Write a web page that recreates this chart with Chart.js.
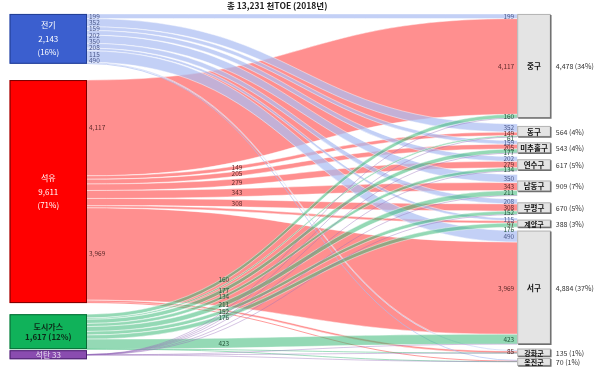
<!DOCTYPE html>
<html>
<head>
<meta charset="utf-8">
<script src="https://cdn.jsdelivr.net/npm/chart.js@4.4.1/dist/chart.umd.min.js"></script>
<style>
  html, body { margin: 0; padding: 0; background: #fff; }
  #wrap { width: 600px; height: 372px; }
</style>
</head>
<body>
<div id="wrap"><canvas id="sankey" width="600" height="372"></canvas></div>
<script>
// --- data (천TOE, 2018) ---
const titleTotal = 13231;
const titleYear = 2018;
const sources = ['전기', '석유', '도시가스', '석탄'];
const sourceTotals = [2143, 9611, 1617, 33];
const sourceShares = [16, 71, 12, null];
const targets = ['중구', '동구', '미추홀구', '연수구', '남동구', '부평구', '계양구', '서구', '강화군', '옹진군'];
const targetTotals = [4478, 564, 543, 617, 909, 670, 388, 4884, 135, 70];
const targetShares = [34, 4, 4, 5, 7, 5, 3, 37, 1, 1];
// flows from each source to the targets above, same order
const elecFlows = [199, 352, 159, 202, 350, 208, 115, 490, 45, 23];
const oilFlows  = [4117, 149, 205, 279, 343, 308, 97, 3969, 85, 40];
const gasFlows  = [160, 61, 177, 134, 211, 152, 176, 423, 3, 5];
const coalFlows = [2, 2, 2, 2, 5, 2, 0, 2, 2, 2];

const flowRows = [elecFlows, oilFlows, gasFlows, coalFlows];
const nodeFill   = ['#3b5fcf', '#ff0000', '#10b25a', '#8a4cb0'];
const nodeBorder = ['#233f94', '#7a0000', '#0a6b36', '#4d2370'];
const nodeText   = ['#ffffff', '#ffffff', '#0b2a18', '#e8dff0'];
const flowFill   = ['rgba(172,190,242,0.72)', 'rgba(255,40,40,0.52)', 'rgba(60,185,120,0.55)', 'rgba(150,110,185,0.45)'];
const labelColor = ['#4d5a8c', '#5e2a2a', '#25583c', '#5a3a70'];

const fmt = v => v.toLocaleString('en-US');
const FONT = '"Noto Sans CJK KR", "Noto Sans", sans-serif';

// layout in scale units
const YMAX = 16000;
const TOP = 600;
const leftGaps = [700, 480, 230];
const rightGaps = [250, 150, 150, 150, 150, 150, 150, 250, 300];
const SRC_L = 0.016, SRC_R = 0.145, TGT_L = 0.862, TGT_R = 0.918;

function spread(list, gap) {
  list.sort((a, b) => a.y - b.y);
  for (let k = 1; k < list.length; k++) {
    if (list[k].y < list[k - 1].y + gap) list[k].y = list[k - 1].y + gap;
  }
  return list;
}

const sankeyPlugin = {
  id: 'sankeyDraw',
  afterDatasetsDraw(chart) {
    const ctx = chart.ctx;
    const xs = chart.scales.x, ys = chart.scales.y;
    const X = v => xs.getPixelForValue(v);
    const Y = v => ys.getPixelForValue(v);

    // node extents
    const srcSum = flowRows.map(r => r.reduce((a, b) => a + b, 0));
    const tgtSum = targets.map((t, j) => flowRows.reduce((a, r) => a + r[j], 0));
    const srcTop = [], tgtTop = [];
    let c = TOP;
    srcSum.forEach((s, i) => { srcTop.push(c); c += s + (leftGaps[i] || 0); });
    c = TOP;
    tgtSum.forEach((s, j) => { tgtTop.push(c); c += s + (rightGaps[j] || 0); });

    // bands
    const bands = [];
    const tgtCur = tgtTop.slice();
    flowRows.forEach((row, i) => {
      let sc = srcTop[i];
      row.forEach((v, j) => {
        bands.push({ i, j, v, a0: sc, b0: sc + v, a1: tgtCur[j], b1: tgtCur[j] + v });
        sc += v;
        tgtCur[j] += v;
      });
    });

    const x0 = X(SRC_R), x1 = X(TGT_L), xm = (x0 + x1) / 2;
    const curveY = (ya, yb, px) => {
      let lo = 0, hi = 1;
      for (let n = 0; n < 40; n++) {
        const t = (lo + hi) / 2;
        const xt = Math.pow(1 - t, 3) * x0 + 3 * (1 - t) * (1 - t) * t * xm + 3 * (1 - t) * t * t * xm + t * t * t * x1;
        if (xt < px) lo = t; else hi = t;
      }
      const t = (lo + hi) / 2;
      return ya + (yb - ya) * (3 * t * t - 2 * t * t * t);
    };

    [1, 0, 2, 3].forEach(i => {
      bands.filter(b => b.i === i && b.v > 0).forEach(b => {
        const a0 = Y(b.a0), b0 = Y(b.b0), a1 = Y(b.a1), b1 = Y(b.b1);
        if (b0 - a0 < 1) {
          const m0 = (a0 + b0) / 2, m1 = (a1 + b1) / 2;
          ctx.beginPath();
          ctx.moveTo(x0, m0);
          ctx.bezierCurveTo(xm, m0, xm, m1, x1, m1);
          ctx.strokeStyle = flowFill[i];
          ctx.lineWidth = 0.9;
          ctx.stroke();
          return;
        }
        ctx.beginPath();
        ctx.moveTo(x0, a0);
        ctx.bezierCurveTo(xm, a0, xm, a1, x1, a1);
        ctx.lineTo(x1, b1);
        ctx.bezierCurveTo(xm, b1, xm, b0, x0, b0);
        ctx.closePath();
        ctx.fillStyle = flowFill[i];
        ctx.fill();
        ctx.strokeStyle = 'rgba(255,255,255,0.75)';
        ctx.lineWidth = 0.6;
        ctx.beginPath();
        ctx.moveTo(x0, a0);
        ctx.bezierCurveTo(xm, a0, xm, a1, x1, a1);
        ctx.moveTo(x0, b0);
        ctx.bezierCurveTo(xm, b0, xm, b1, x1, b1);
        ctx.stroke();
      });
    });

    // source nodes
    sources.forEach((name, i) => {
      const top = Y(srcTop[i]), bot = Y(srcTop[i] + srcSum[i]);
      let h = bot - top, y = top;
      if (h < 9) { y = (top + bot) / 2 - 4.5; h = 9; }
      const l = X(SRC_L), w = X(SRC_R) - l;
      ctx.fillStyle = nodeFill[i];
      ctx.fillRect(l, y, w, h);
      ctx.strokeStyle = nodeBorder[i];
      ctx.lineWidth = 1;
      ctx.strokeRect(l + 0.5, y + 0.5, w - 1, h - 1);
      ctx.fillStyle = nodeText[i];
      ctx.textAlign = 'center';
      ctx.textBaseline = 'middle';
      const cx = l + w / 2, cy = y + h / 2;
      const share = sourceShares[i] != null ? '(' + sourceShares[i] + '%)' : '';
      let lines;
      if (h > 40) lines = [name, fmt(sourceTotals[i]), share];
      else if (h > 15) lines = [name, fmt(sourceTotals[i]) + ' ' + share];
      else lines = [name + ' ' + fmt(sourceTotals[i])];
      ctx.font = (i === 2 ? '600 ' : '') + '8px ' + FONT;
      const lh = h > 40 ? 13.5 : 10;
      lines.forEach((s, k) => ctx.fillText(s, cx, cy + (k - (lines.length - 1) / 2) * lh));
    });

    // target nodes
    targets.forEach((name, j) => {
      const top = Y(tgtTop[j]), bot = Y(tgtTop[j] + tgtSum[j]);
      const bh = bot - top;
      let y = top, h = bh;
      if (bh < 40) { h = bh >= 12 ? 11 : 8; y = (top + bot) / 2 - h / 2 + 1; }
      const l = X(TGT_L), w = X(TGT_R) - l;
      ctx.fillStyle = '#e4e4e4';
      ctx.fillRect(l, y, w, h);
      ctx.strokeStyle = '#b4b4b4';
      ctx.lineWidth = 1;
      ctx.strokeRect(l + 0.5, y + 0.5, w - 1, h - 1);
      ctx.strokeStyle = '#6f6f6f';
      ctx.lineWidth = 1.5;
      ctx.beginPath();
      ctx.moveTo(l + w, y + 1);
      ctx.lineTo(l + w, y + h);
      ctx.lineTo(l + 1, y + h);
      ctx.stroke();
      ctx.fillStyle = '#111';
      ctx.font = 'bold ' + (h < 9 ? 7 : 7.5) + 'px ' + FONT;
      ctx.textAlign = 'center';
      ctx.textBaseline = 'middle';
      ctx.fillText(name, l + w / 2, y + h / 2 + 0.5);
      ctx.font = '7px ' + FONT;
      ctx.fillStyle = '#333';
      ctx.textAlign = 'left';
      ctx.fillText(fmt(targetTotals[j]) + ' (' + targetShares[j] + '%)', l + w + 5, y + h / 2 + 0.5);
    });

    // flow value labels
    const leftL = [], midOil = [], midGas = [], right = targets.map(() => []);
    bands.forEach(b => {
      if (b.v < 50 || b.i === 3) return;
      const c0 = Y((b.a0 + b.b0) / 2), c1 = Y((b.a1 + b.b1) / 2);
      const lab = { text: fmt(b.v), color: labelColor[b.i] };
      right[b.j].push(Object.assign({ y: c1 }, lab));
      if (b.v < 100) return;
      if (b.i === 0 || (b.i === 1 && b.v >= 1000)) leftL.push(Object.assign({ y: c0, x: x0 + 2 }, lab));
      else if (b.i === 1) midOil.push(Object.assign({ y: curveY(c0, c1, X(0.395)), x: X(0.395) }, lab));
      else if (b.i === 2) midGas.push(Object.assign({ y: curveY(c0, c1, X(0.373)), x: X(0.373) }, lab));
    });
    ctx.font = '6.5px ' + FONT;
    ctx.textBaseline = 'middle';
    ctx.textAlign = 'left';
    spread(leftL, 6.3).forEach(l => { ctx.fillStyle = l.color; ctx.fillText(l.text, l.x, l.y); });
    ctx.textAlign = 'center';
    spread(midOil, 5.8).forEach(l => { ctx.fillStyle = l.color; ctx.fillText(l.text, l.x, l.y); });
    spread(midGas, 5.8).forEach(l => { ctx.fillStyle = l.color; ctx.fillText(l.text, l.x, l.y); });
    ctx.textAlign = 'right';
    right.forEach(g => spread(g, 5.2).forEach(l => { ctx.fillStyle = l.color; ctx.fillText(l.text, x1 - 3, l.y); }));

    // title
    ctx.fillStyle = '#222';
    ctx.font = 'bold 8.5px ' + FONT;
    ctx.textAlign = 'center';
    ctx.fillText('총 ' + fmt(titleTotal) + ' 천TOE (' + titleYear + '년)', X(0.462), 5.5);
  }
};

new Chart(document.getElementById('sankey'), {
  type: 'scatter',
  data: { datasets: [{ data: [] }] },
  options: {
    responsive: false,
    animation: false,
    devicePixelRatio: 1,
    layout: { padding: 0 },
    plugins: { legend: { display: false }, tooltip: { enabled: false }, title: { display: false } },
    scales: {
      x: { type: 'linear', min: 0, max: 1, display: false },
      y: { type: 'linear', min: 0, max: YMAX, reverse: true, display: false }
    }
  },
  plugins: [sankeyPlugin]
});
</script>
</body>
</html>
